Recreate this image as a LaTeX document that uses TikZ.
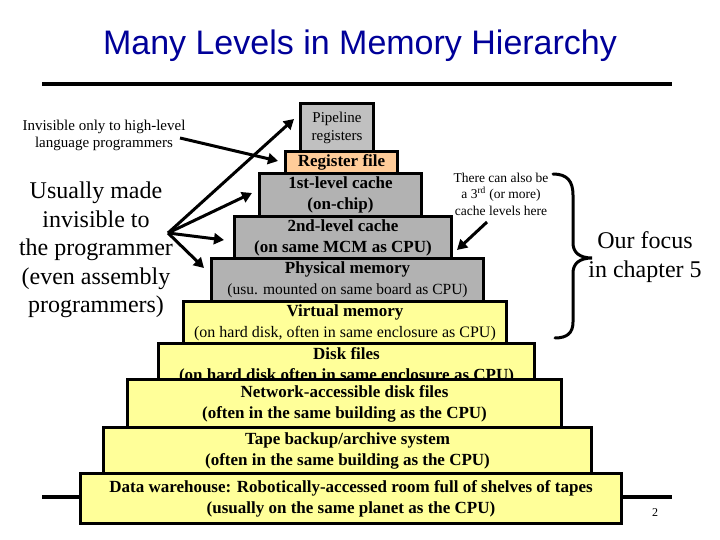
\documentclass[tikz,border=0pt]{standalone}
\usepackage{fontspec}
\setmainfont{Liberation Serif}
\newfontfamily\arialfont{Liberation Sans}
\usetikzlibrary{arrows.meta}
\definecolor{titleblue}{RGB}{0,0,153}
\definecolor{boxgray}{RGB}{178,178,178}
\definecolor{pipegray}{RGB}{192,192,192}
\definecolor{regorange}{RGB}{255,204,153}
\definecolor{boxyellow}{RGB}{255,255,153}
\tikzset{
  lvl/.style={draw=black, line width=3pt, inner sep=0pt, align=center, anchor=north west},
  bt/.style={font=\bfseries\fontsize{17}{21}\selectfont},
  arr/.style={line width=3pt, -{Triangle[length=10pt,width=11pt]}},
  bracestyle/.style={line width=3pt, line cap=round},
}
\newcommand{\subsmall}{\mdseries\fontsize{15.5}{19}\selectfont}
\begin{document}
\begin{tikzpicture}[x=1pt,y=-1pt]
\useasboundingbox (0,0) rectangle (720,540);
% title
\node[anchor=base, text=titleblue, font=\arialfont\fontsize{34}{40}\selectfont, inner sep=0pt] (title) at (360,55) {Many Levels in Memory Hierarchy};
\coordinate (tl) at (42,84);
\coordinate (tr) at (672,84);
\draw[line width=4pt] (tl) -- (tr);
% bottom line
\coordinate (bl) at (42,497);
\coordinate (br) at (672,497);
\draw[line width=4pt] (bl) -- (br);
% boxes
\node[lvl, fill=pipegray, minimum width=73pt, minimum height=48pt, font=\fontsize{15}{18}\selectfont] (pipe) at (299,102) {Pipeline\\registers};
\node[lvl, fill=regorange, minimum width=112pt, minimum height=22pt, font=\bfseries\fontsize{17}{20}\selectfont] (reg) at (284,150) {Register file};
\node[lvl, bt, fill=boxgray, minimum width=162pt, minimum height=43pt] (l1) at (258,172) {1st-level cache\\(on-chip)};
\node[lvl, bt, fill=boxgray, minimum width=217pt, minimum height=42pt] (l2) at (233,215) {2nd-level cache\\(on same MCM as CPU)};
\node[lvl, bt, fill=boxgray, minimum width=272pt, minimum height=43pt] (phys) at (210,257) {Physical memory\\{\subsmall (usu. mounted on same board as CPU)}};
\node[lvl, bt, fill=boxyellow, minimum width=323pt, minimum height=42pt] (virt) at (182,300) {Virtual memory\\{\fontsize{16}{19}\selectfont\mdseries (on hard disk, often in same enclosure as CPU)}};
\node[lvl, bt, fill=boxyellow, minimum width=376pt, minimum height=44pt] (disk) at (157,342) {Disk files\\(on hard disk often in same enclosure as CPU)};
\node[lvl, bt, fill=boxyellow, minimum width=434pt, minimum height=48pt] (net) at (126,378) {Network-accessible disk files\\(often in the same building as the CPU)};
\node[lvl, bt, fill=boxyellow, minimum width=488pt, minimum height=46pt] (tape) at (102,426) {Tape backup/archive system\\(often in the same building as the CPU)};
\node[lvl, bt, fill=boxyellow, minimum width=541pt, minimum height=50pt] (data) at (79,472) {Data warehouse: Robotically-accessed room full of shelves of tapes\\(usually on the same planet as the CPU)};
% left texts
\node[align=center, font=\fontsize{15}{17}\selectfont, inner sep=0pt] (inv) at (104,135) {Invisible only to high-level\\language programmers};
\node[align=center, font=\fontsize{24}{28.5}\selectfont, inner sep=0pt] (usu) at (96,250) {Usually made\\invisible to\\the programmer\\(even assembly\\programmers)};
% right texts
\node[align=center, font=\fontsize{13.5}{16.5}\selectfont, inner sep=0pt] (third) at (501,194) {There can also be\\a 3\textsuperscript{rd} (or more)\\cache levels here};
\node[align=center, font=\fontsize{24}{29}\selectfont, inner sep=0pt] (focus) at (645,257) {Our focus\\in chapter 5};
\node[anchor=base, font=\fontsize{12}{14}\selectfont, inner sep=0pt] (pnum) at (655,516) {2};
% arrows
\coordinate (invstart) at (180,138);
\coordinate (tipreg) at (278,161);
\coordinate (hub) at (168,233);
\coordinate (tippipe) at (294,119);
\coordinate (tipl1) at (252,193);
\coordinate (tipl2) at (224,240);
\coordinate (tipphys) at (204,268);
\coordinate (thirdstart) at (487,222);
\coordinate (tipthird) at (457,250);
\draw[arr] (invstart) -- (tipreg);
\draw[arr] (hub) -- (tippipe);
\draw[arr] (hub) -- (tipl1);
\draw[arr] (hub) -- (tipl2);
\draw[arr] (hub) -- (tipphys);
\draw[arr] (thirdstart) -- (tipthird);
% brace
\coordinate (btop) at (553,174);
\coordinate (btip) at (592,258);
\coordinate (bbot) at (555,338);
\draw[bracestyle] (btop) .. controls (567,174) and (573,181) .. (573,195) -- (573,243)
  .. controls (573,252) and (579,258) .. (btip)
  .. controls (579,258) and (573,264) .. (573,273) -- (573,322)
  .. controls (573,333) and (567,338) .. (bbot);
\end{tikzpicture}
\end{document}
